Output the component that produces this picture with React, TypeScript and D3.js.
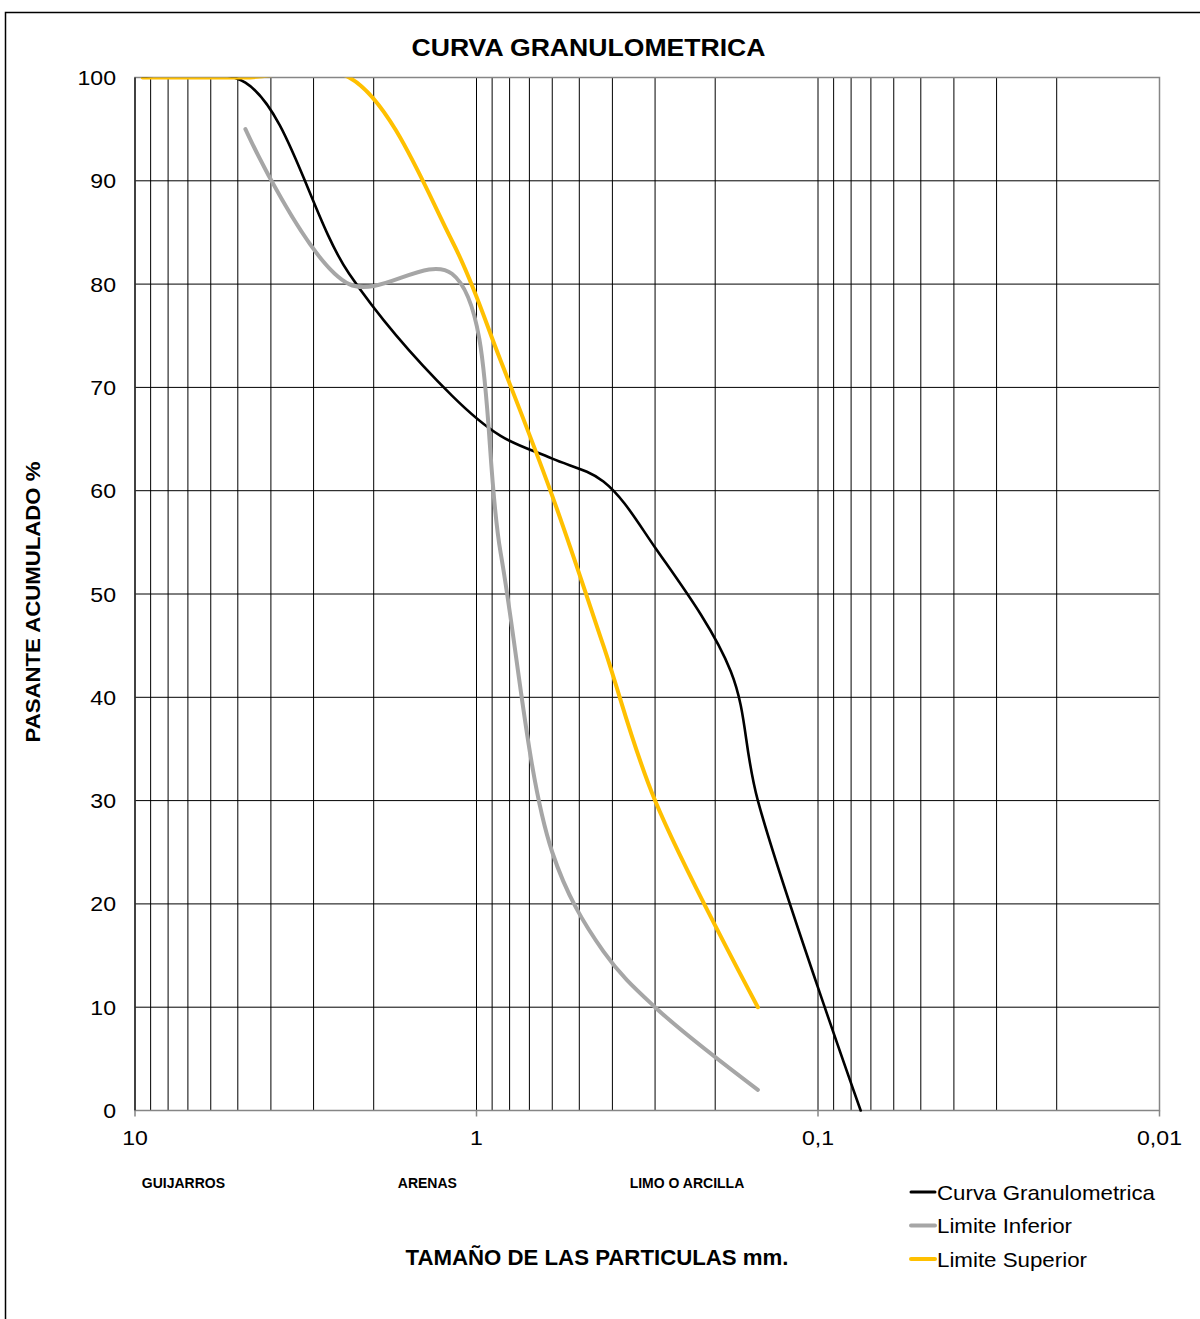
import { useEffect, useRef } from 'react';
import * as d3 from 'd3';

// Sieve openings (mm) and % passing for each series (null = no reading)
const sieves = [9.5, 4.75, 2.36, 1.18, 0.85, 0.6, 0.425, 0.3, 0.18, 0.15, 0.075];
const curvaGranulometrica = [100, 99.5, 81, 69.2, 65.3, 63.1, 60.9, 54.5, 42.5, 30, 0];
const limiteInferior = [null, 95, 80, 81, 54, 25, 15.4, 10, null, 2, null];
const limiteSuperior = [100, 100, 100, 84.2, 72.6, 59.5, 45, 30, null, 10, null];

const xTicks = [10, 1, 0.1, 0.01];
const xTickLabels = ['10', '1', '0,1', '0,01'];
const yTicks = [0, 10, 20, 30, 40, 50, 60, 70, 80, 90, 100];

// soil classes written under the axis, anchored at a size in mm
const zones = ['GUIJARROS', 'ARENAS', 'LIMO O ARCILLA'];
const zoneAt = [9.55, 1.7, 0.356];

const series = [
  { name: 'Curva Granulometrica', values: curvaGranulometrica, color: '#000000', width: 2.6 },
  { name: 'Limite Inferior', values: limiteInferior, color: '#A6A6A6', width: 4 },
  { name: 'Limite Superior', values: limiteSuperior, color: '#FFC000', width: 4 },
];

export default function App() {
  const svgRef = useRef<SVGSVGElement>(null);

  useEffect(() => {
    if (!svgRef.current) return;
    const width = 1200;
    const height = 1319;
    const svg = d3.select(svgRef.current);
    svg.selectAll('*').remove();
    svg.attr('width', width).attr('height', height);

    const font = 'Liberation Sans, Arial, sans-serif';
    const x = d3.scaleLog().domain([10, 0.01]).range([135, 1159.5]);
    const y = d3.scaleLinear().domain([0, 100]).range([1110.5, 77.5]);

    svg.append('rect').attr('width', width).attr('height', height).attr('fill', '#fff');

    // outer frame (runs off the right and bottom edges)
    svg.append('rect')
      .attr('x', 5.5).attr('y', 12.5)
      .attr('width', 1210).attr('height', 1320)
      .attr('fill', 'none').attr('stroke', '#000').attr('stroke-width', 1.5);

    // title
    svg.append('text')
      .attr('x', 588.5).attr('y', 56)
      .attr('text-anchor', 'middle')
      .attr('font-family', font).attr('font-weight', 'bold').attr('font-size', 24)
      .attr('textLength', 354).attr('lengthAdjust', 'spacingAndGlyphs')
      .text('CURVA GRANULOMETRICA');

    const grid = svg.append('g');

    // vertical log grid: 1..9 in each decade
    const minor: number[] = [];
    [10, 1, 0.1].forEach((dec) => {
      for (let k = 1; k < 10; k++) minor.push((dec / 10) * k);
    });
    grid.selectAll('line.v')
      .data(minor.filter((d) => d < 10 && d > 0.01))
      .enter()
      .append('line')
      .attr('x1', (d) => x(d)).attr('x2', (d) => x(d))
      .attr('y1', y(0)).attr('y2', y(100))
      .attr('stroke', '#000').attr('stroke-width', 1);

    // horizontal grid
    grid.selectAll('line.h')
      .data(yTicks)
      .enter()
      .append('line')
      .attr('x1', x(10)).attr('x2', x(0.01))
      .attr('y1', (d) => y(d)).attr('y2', (d) => y(d))
      .attr('stroke', '#000').attr('stroke-width', 1);

    // plot border
    svg.append('rect')
      .attr('x', x(10)).attr('y', y(100))
      .attr('width', x(0.01) - x(10)).attr('height', y(0) - y(100))
      .attr('fill', 'none').attr('stroke', '#868686').attr('stroke-width', 1.5);
    svg.append('line')
      .attr('x1', x(10)).attr('x2', x(10)).attr('y1', y(0)).attr('y2', y(100))
      .attr('stroke', '#000').attr('stroke-width', 1.2);

    // x ticks
    svg.selectAll('line.xt')
      .data(xTicks)
      .enter()
      .append('line')
      .attr('x1', (d) => x(d)).attr('x2', (d) => x(d))
      .attr('y1', y(0)).attr('y2', y(0) + 6)
      .attr('stroke', '#868686').attr('stroke-width', 1.5);

    svg.selectAll('text.xl')
      .data(xTicks)
      .enter()
      .append('text')
      .attr('transform', (d) => `translate(${x(d)},1145) scale(1.1,1)`)
      .attr('text-anchor', 'middle')
      .attr('font-family', font).attr('font-size', 21)
      .text((d, i) => xTickLabels[i]);

    svg.selectAll('text.yl')
      .data(yTicks)
      .enter()
      .append('text')
      .attr('transform', (d) => `translate(116,${y(d) + 7.5}) scale(1.1,1)`)
      .attr('text-anchor', 'end')
      .attr('font-family', font).attr('font-size', 21)
      .text((d) => String(d));

    // zone labels
    svg.selectAll('text.zone')
      .data(zones)
      .enter()
      .append('text')
      .attr('x', (d, i) => x(zoneAt[i]))
      .attr('y', 1188)
      .attr('font-family', font).attr('font-weight', 'bold').attr('font-size', 14)
      .text((d) => d);

    // axis titles
    svg.append('text')
      .attr('x', 597).attr('y', 1265)
      .attr('text-anchor', 'middle')
      .attr('font-family', font).attr('font-weight', 'bold').attr('font-size', 22)
      .attr('textLength', 383).attr('lengthAdjust', 'spacingAndGlyphs')
      .text('TAMAÑO DE LAS PARTICULAS mm.');

    svg.append('text')
      .attr('transform', 'translate(40,602) rotate(-90)')
      .attr('text-anchor', 'middle')
      .attr('font-family', font).attr('font-weight', 'bold').attr('font-size', 21)
      .attr('textLength', 281).attr('lengthAdjust', 'spacingAndGlyphs')
      .text('PASANTE ACUMULADO %');

    // curves, clipped to the plot area (smoothed lines overshoot 100 %)
    svg.append('clipPath').attr('id', 'plot-clip')
      .append('rect')
      .attr('x', x(10)).attr('y', y(100))
      .attr('width', x(0.01) - x(10)).attr('height', y(0) - y(100) + 3);

    const line = d3.line<[number, number]>()
      .x((d) => x(d[0]))
      .y((d) => y(d[1]))
      .curve(d3.curveCatmullRom.alpha(0.5));

    series.forEach((s) => {
      const pts = sieves
        .map((sv, i) => [sv, s.values[i]] as [number, number | null])
        .filter((p) => p[1] !== null) as [number, number][];
      svg.append('path')
        .attr('d', line(pts) || '')
        .attr('fill', 'none')
        .attr('stroke', s.color)
        .attr('stroke-width', s.width)
        .attr('stroke-linecap', 'round')
        .attr('stroke-linejoin', 'round')
        .attr('clip-path', 'url(#plot-clip)');
    });

    // legend
    const legend = svg.append('g');
    series.forEach((s, i) => {
      const ly = 1192 + i * 33.5;
      legend.append('line')
        .attr('x1', 911).attr('x2', 935).attr('y1', ly).attr('y2', ly)
        .attr('stroke', s.color).attr('stroke-width', i === 0 ? 3 : 4)
        .attr('stroke-linecap', 'round');
      legend.append('text')
        .attr('x', 937).attr('y', ly + 7.5)
        .attr('font-family', font).attr('font-size', 21)
        .attr('textLength', i === 0 ? 218 : i === 1 ? 135 : 150)
        .attr('lengthAdjust', 'spacingAndGlyphs')
        .text(s.name);
    });
  }, []);

  return (
    <svg
      ref={svgRef}
      style={{ position: 'absolute', left: 0, top: 0, display: 'block' }}
    />
  );
}
